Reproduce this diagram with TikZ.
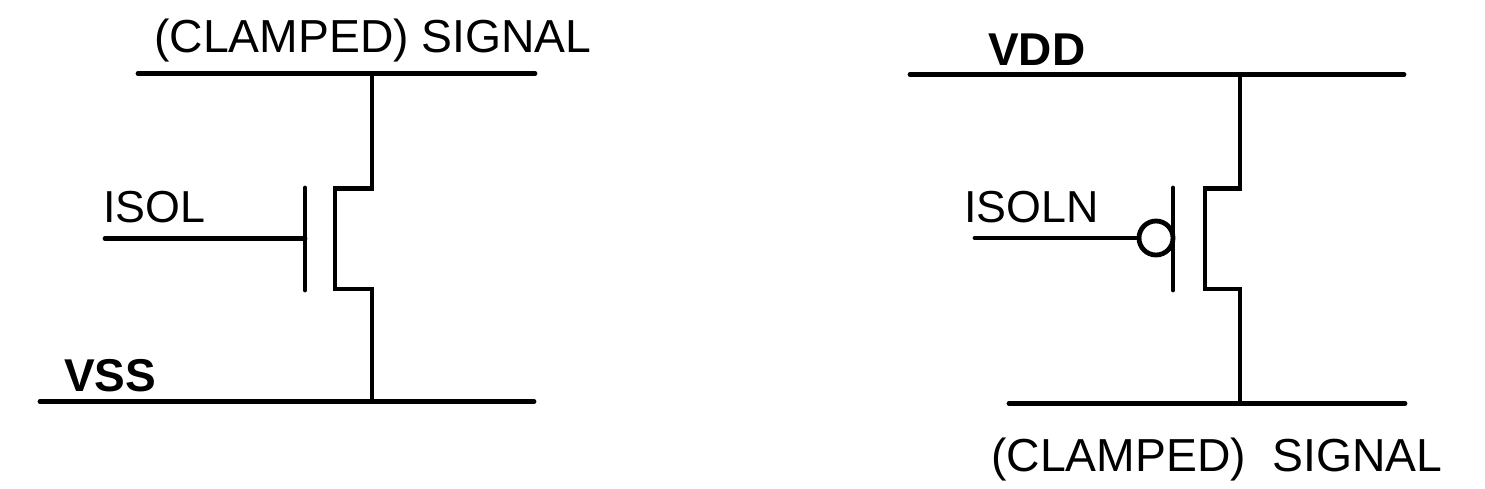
\documentclass[tikz,border=0pt]{standalone}
\usepackage{fontspec}
\setmainfont{Liberation Sans}
\tikzset{
wire/.style={line width=4.8pt, line cap=round, line join=miter},
siglabel/.style={inner sep=0pt, anchor=base west, font=\fontsize{46.3}{46.3}\selectfont},
gatelabel/.style={inner sep=0pt, anchor=base west, font=\fontsize{44.8}{44.8}\selectfont},
raillabel/.style={inner sep=0pt, anchor=base west, font=\fontsize{46}{46}\selectfont\bfseries},
}
\begin{document}
\begin{tikzpicture}[x=1pt,y=-1pt]
\useasboundingbox (0,0) rectangle (1485,488);
\coordinate (nrailaL) at (138,73.5);
\coordinate (nrailaR) at (535,73.5);
\coordinate (nrailbL) at (40,401.5);
\coordinate (nrailbR) at (534,401.5);
\coordinate (ndrain) at (372,73.5);
\coordinate (nd1) at (372,188.5);
\coordinate (nd2) at (335,188.5);
\coordinate (ns2) at (335,289);
\coordinate (ns1) at (372,289);
\coordinate (nsource) at (372,401.5);
\coordinate (ngateT) at (305,188);
\coordinate (ngateB) at (305,290);
\coordinate (ngateM) at (305,238.5);
\coordinate (ngateIn) at (105,238.5);
\node[siglabel] (nsig) at (154,52){(CLAMPED) SIGNAL};
\node[gatelabel] (nisol) at (103,222){ISOL};
\node[raillabel] (nvss) at (64,391){VSS};
\draw[wire](nrailaL) -- (nrailaR);
\draw[wire](nrailbL) -- (nrailbR);
\draw[wire](ndrain) -- (nd1) -- (nd2) -- (ns2) -- (ns1) -- (nsource);
\draw[wire](ngateT) -- (ngateB);
\draw[wire](ngateIn) -- (ngateM);
\coordinate (prailaL) at (910,74.5);
\coordinate (prailaR) at (1404,74.5);
\coordinate (prailbL) at (1009,403.5);
\coordinate (prailbR) at (1405,403.5);
\coordinate (psource) at (1240,74.5);
\coordinate (ps1) at (1240,188.5);
\coordinate (ps2) at (1205,188.5);
\coordinate (pd2) at (1205,289);
\coordinate (pd1) at (1240,289);
\coordinate (pdrain) at (1240,403.5);
\coordinate (pgateT) at (1173,188);
\coordinate (pgateB) at (1173,290);
\coordinate (pgateIn) at (975,238);
\node[raillabel] (pvdd) at (988,65){VDD};
\node[gatelabel] (pisoln) at (964,222){ISOLN};
\node[siglabel] (psig) at (991,471){(CLAMPED)\hspace{1pt}\ \ SIGNAL};
\node[circle, draw, line width=4.8pt, minimum size=34pt, inner sep=0pt] (pbubble) at (1156,238){};
\draw[wire](prailaL) -- (prailaR);
\draw[wire](prailbL) -- (prailbR);
\draw[wire](psource) -- (ps1) -- (ps2) -- (pd2) -- (pd1) -- (pdrain);
\draw[wire](pgateT) -- (pgateB);
\draw[wire](pgateIn) -- (pbubble);
\end{tikzpicture}
\end{document}
